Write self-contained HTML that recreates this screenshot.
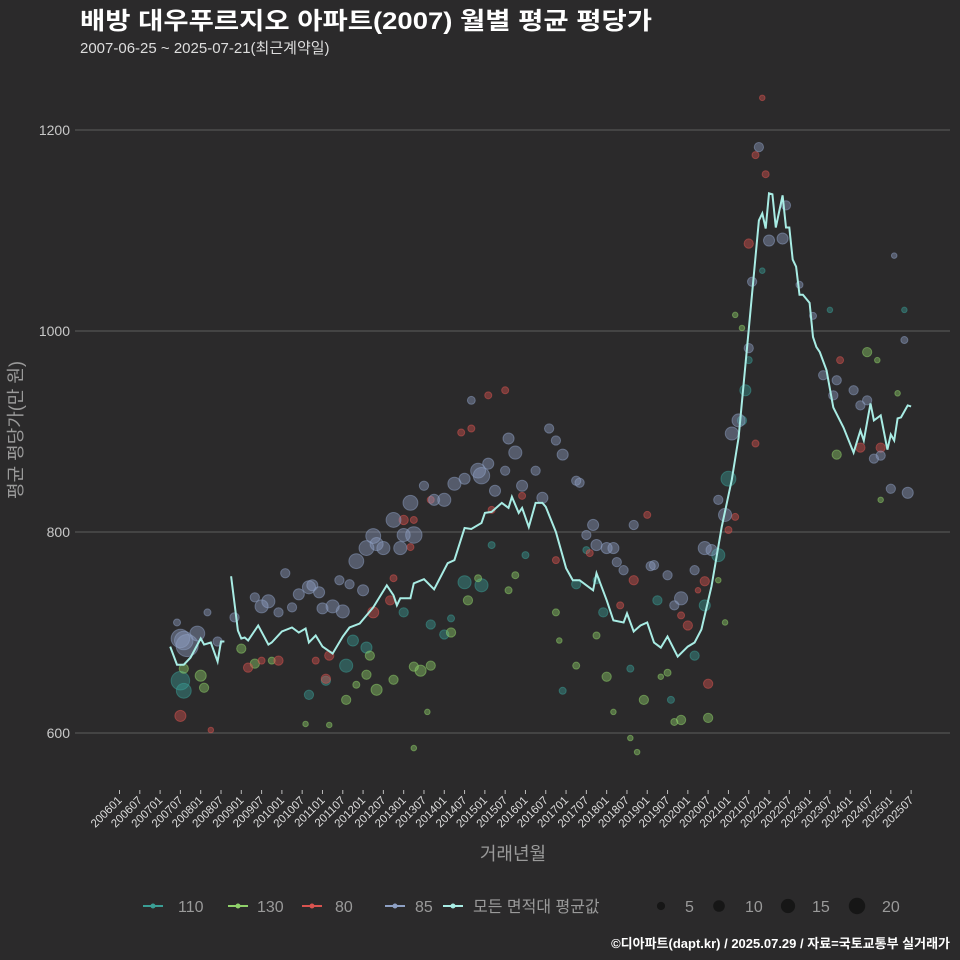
<!DOCTYPE html>
<html><head><meta charset="utf-8"><style>
body{margin:0;background:#2b2a2b;}
svg{display:block;font-family:"Liberation Sans","Noto Sans CJK KR",sans-serif;}
</style></head><body>
<svg id="chart" width="960" height="960" viewBox="0 0 960 960">
<rect width="960" height="960" fill="#2b2a2b"/>
<text x="80" y="29" font-size="24" font-weight="bold" fill="#fff" textLength="572" lengthAdjust="spacingAndGlyphs">배방 대우푸르지오 아파트(2007) 월별 평균 평당가</text>
<text x="80" y="53" font-size="15" fill="#ddd">2007-06-25 ~ 2025-07-21(최근계약일)</text>
<g id="grid"></g>
<g id="yticks"></g>
<g id="xticks"></g>
<g id="dots"></g>
<path id="avgline" fill="none" stroke="#a8ece4" stroke-width="2"/>
<text x="513" y="860" font-size="18" fill="#9a9a9a" text-anchor="middle">거래년월</text>
<text transform="translate(22,430) rotate(-90)" font-size="18" fill="#9a9a9a" text-anchor="middle">평균 평당가(만 원)</text>
<g id="legend"></g>
<text x="950" y="948" font-size="13" font-weight="bold" fill="#fff" text-anchor="end">©디아파트(dapt.kr) / 2025.07.29 / 자료=국토교통부 실거래가</text>
</svg>
<script>
const yTicks=[600,800,1000,1200];
const xTickLabels=[];for(let y=2006;y<=2025;y++){xTickLabels.push(y+"01");xTickLabels.push(y+"07");}
const seriesNames=["110","130","80","85"];
const seriesColors={"110":"#3a9e95","130":"#8fd16a","80":"#d9534f","85":"#8ea0c4"};
const avgMonths=["2007-04","2007-06","2007-08","2007-10","2008-01","2008-02","2008-04","2008-06","2008-07","2008-08","2008-09","2008-10","2008-12","2009-01","2009-02","2009-03","2009-06","2009-09","2009-10","2010-01","2010-04","2010-06","2010-08","2010-09","2010-11","2011-01","2011-04","2011-07","2011-09","2011-12","2012-04","2012-08","2012-10","2012-11","2012-12","2013-03","2013-04","2013-07","2013-10","2014-02","2014-04","2014-07","2014-09","2014-12","2015-01","2015-03","2015-06","2015-08","2015-09","2015-11","2015-12","2016-02","2016-04","2016-06","2016-07","2016-10","2017-01","2017-03","2017-05","2017-07","2017-09","2017-10","2018-01","2018-03","2018-06","2018-07","2018-09","2018-11","2019-01","2019-03","2019-05","2019-07","2019-10","2020-01","2020-03","2020-05","2020-08","2020-11","2021-02","2021-04","2021-07","2021-10","2021-11","2021-12","2022-01","2022-02","2022-03","2022-05","2022-06","2022-07","2022-08","2022-09","2022-10","2022-11","2023-01","2023-02","2023-03","2023-04","2023-06","2023-08","2023-11","2024-02","2024-04","2024-05","2024-07","2024-08","2024-10","2024-12","2025-01","2025-02","2025-03","2025-04","2025-06","2025-07"];
const avgValues=[686,668,668,675,694,688,690,671,691,691,null,756,702,694,695,692,707,688,690,701,705,700,704,690,697,686,679,696,705,709,725,747,737,727,734,734,749,753,743,769,772,804,803,809,819,820,829,824,835,819,824,805,829,829,825,800,764,752,752,747,742,759,732,712,710,719,701,707,710,690,685,696,676,686,690,703,746,805,852,894,1001,1110,1117,1102,1137,1136,1103,1135,1103,1103,1071,1064,1036,1036,1028,994,984,979,961,924,904,879,901,891,928,911,916,882,897,891,913,914,926,925];
const pts110=[["2007-07",652,28],["2007-08",642,18],["2010-09",638,7],["2011-02",652,7],["2011-08",667,14],["2011-10",692,10],["2012-02",685,10],["2013-01",720,7],["2013-09",708,7],["2014-01",698,7],["2014-03",714,4],["2014-07",750,14],["2014-12",747,14],["2015-03",787,4],["2016-01",777,4],["2016-12",642,4],["2017-04",748,7],["2017-07",782,4],["2017-10",752,4],["2017-12",720,7],["2018-08",664,4],["2019-04",732,7],["2019-08",633,4],["2020-03",677,7],["2020-06",727,10],["2020-10",777,14],["2021-01",853,18],["2021-05",911,7],["2021-06",941,10],["2021-07",971,4],["2021-11",1060,2.5],["2023-07",1021,2.5],["2025-05",1021,2.5]];
const pts130=[["2007-08",664,7],["2008-01",657,10],["2008-02",645,7],["2009-01",684,7],["2009-05",669,7],["2009-10",672,4],["2010-08",609,2.5],["2011-03",608,2.5],["2011-08",633,7],["2011-11",648,4],["2012-02",658,7],["2012-03",677,7],["2012-05",643,10],["2012-10",653,7],["2013-04",666,7],["2013-06",662,10],["2013-09",667,7],["2013-08",621,2.5],["2013-04",585,2.5],["2014-03",700,7],["2014-08",732,7],["2014-11",754,4],["2015-08",742,4],["2015-10",757,4],["2016-10",720,4],["2016-11",692,2.5],["2017-04",667,4],["2017-10",697,4],["2018-01",656,7],["2018-03",621,2.5],["2018-08",595,2.5],["2018-10",581,2.5],["2018-12",633,7],["2019-05",656,2.5],["2019-07",660,4],["2019-09",611,4],["2019-11",613,7],["2020-07",615,7],["2020-10",752,2.5],["2020-12",710,2.5],["2021-03",1016,2.5],["2021-05",1003,2.5],["2023-09",877,7],["2024-06",979,7],["2024-09",971,2.5],["2025-03",938,2.5],["2024-10",832,2.5]];
const pts80=[["2007-07",617,10],["2008-04",603,2.5],["2009-03",665,7],["2009-07",672,4],["2009-12",672,7],["2010-11",672,4],["2011-03",677,7],["2011-02",654,7],["2012-04",720,10],["2012-09",732,7],["2012-10",754,4],["2013-01",812,7],["2013-04",812,4],["2013-03",785,4],["2013-09",832,4],["2014-06",899,4],["2014-09",903,4],["2015-02",936,4],["2015-03",822,4],["2015-07",941,4],["2015-12",836,4],["2016-10",772,4],["2017-08",779,4],["2018-05",727,4],["2018-09",752,7],["2019-01",817,4],["2019-11",717,4],["2020-01",707,7],["2020-04",742,2.5],["2020-06",751,7],["2020-07",649,7],["2021-01",802,4],["2021-03",815,4],["2021-07",1087,7],["2021-09",1175,4],["2021-11",1232,2.5],["2021-12",1156,4],["2021-09",888,4],["2024-04",884,7],["2024-10",884,7],["2023-10",971,4]];
const pts85=[["2007-06",710,4],["2007-07",694,28],["2007-08",692,28],["2007-09",687,40],["2007-12",699,18],["2008-03",720,4],["2008-06",691,7],["2008-11",715,7],["2009-05",735,7],["2009-07",726,14],["2009-09",731,14],["2009-12",720,7],["2010-02",759,7],["2010-04",725,7],["2010-06",738,10],["2010-09",745,14],["2010-10",747,10],["2010-12",740,10],["2011-01",724,10],["2011-04",726,14],["2011-06",752,7],["2011-07",721,14],["2011-09",748,7],["2011-11",771,18],["2012-01",742,10],["2012-02",784,18],["2012-04",796,18],["2012-05",788,14],["2012-07",784,14],["2012-10",812,18],["2012-12",784,14],["2013-01",797,14],["2013-03",829,18],["2013-04",797,22],["2013-07",846,7],["2013-10",832,10],["2014-01",832,14],["2014-04",848,14],["2014-07",853,10],["2014-09",931,5],["2014-11",861,18],["2014-12",856,22],["2015-02",868,10],["2015-04",841,10],["2015-07",861,7],["2015-08",893,10],["2015-10",879,14],["2015-12",846,10],["2016-04",861,7],["2016-06",834,10],["2016-08",903,7],["2016-10",891,7],["2016-12",877,10],["2017-04",851,7],["2017-05",849,7],["2017-07",797,7],["2017-09",807,10],["2017-10",787,10],["2018-01",784,10],["2018-03",784,10],["2018-04",770,7],["2018-06",762,7],["2018-09",807,7],["2019-02",766,7],["2019-03",767,7],["2019-07",757,7],["2019-09",727,7],["2019-11",734,14],["2020-03",762,7],["2020-06",784,14],["2020-08",782,10],["2020-10",832,7],["2020-12",817,14],["2021-02",898,14],["2021-04",911,14],["2021-07",983,7],["2021-08",1049,7],["2021-10",1183,7],["2022-01",1090,10],["2022-05",1092,10],["2022-06",1125,7],["2022-10",1046,4],["2023-02",1015,4],["2023-05",956,7],["2023-08",936,7],["2023-09",951,7],["2024-02",941,7],["2024-04",926,7],["2024-06",931,7],["2024-08",873,7],["2024-10",876,7],["2025-01",843,7],["2025-05",991,4],["2025-06",839,10],["2025-02",1075,2.5]];
const sizeLegend=[5,10,15,20];

const NS="http://www.w3.org/2000/svg";
const X0=119.5, DX=3.383;
function mIndex(s){const p=s.split("-");return (parseInt(p[0])-2006)*12+parseInt(p[1])-1;}
function xScale(s){return X0+DX*mIndex(s);}
function yScale(v){return 130+(1200-v)*201/200;}
function rScale(n){return 1.75*Math.sqrt(n);}
function mk(tag,attrs,parent){const e=document.createElementNS(NS,tag);for(const k in attrs)e.setAttribute(k,attrs[k]);parent.appendChild(e);return e;}

const grid=document.getElementById("grid"), yt=document.getElementById("yticks"), xt=document.getElementById("xticks");
yTicks.forEach(v=>{
  const l=mk("line",{x1:75,x2:950,y1:yScale(v),y2:yScale(v),stroke:"#5e5e5e","stroke-width":1},grid);
  
  
  const t=mk("text",{x:70,y:yScale(v)+5,"font-size":14,fill:"#c8c8c8","text-anchor":"end"},yt);
  t.textContent=v;
  
  
});
xTickLabels.forEach(lab=>{
  const x=xScale(lab.slice(0,4)+"-"+lab.slice(4));
  const tk=mk("line",{x1:x,x2:x,y1:790,y2:794,stroke:"#bbb","stroke-width":1},xt);
  
  
  const t=mk("text",{transform:`translate(${x+3},${801}) rotate(-45)`,"font-size":11.5,fill:"#ddd","text-anchor":"end"},xt);
  t.textContent=lab;
  
  
});
const dots=document.getElementById("dots");
[["110",pts110],["130",pts130],["80",pts80],["85",pts85]].forEach(([name,arr])=>{
  const c=seriesColors[name];
  arr.forEach(p=>{
    const e=mk("circle",{cx:xScale(p[0]),cy:yScale(p[1]),r:rScale(p[2]),fill:c,"fill-opacity":0.42,stroke:c,"stroke-opacity":0.5,"stroke-width":1},dots);
    
    
  });
});
let d="",pen=false;
avgMonths.forEach((m,i)=>{const v=avgValues[i];if(v==null){pen=false;return;}d+=(pen?"L":"M")+xScale(m).toFixed(1)+","+yScale(v).toFixed(1);pen=true;});
document.getElementById("avgline").setAttribute("d",d);

const lg=document.getElementById("legend");
const items=[["110",143,178],["130",228,257],["80",302,335],["85",385,415],["avg",443,473]];
items.forEach(([n,x,tx])=>{
  const c=n==="avg"?"#a8ece4":seriesColors[n];
  const g=mk("g",{},lg);
  
  
  mk("line",{x1:x,x2:x+20,y1:906,y2:906,stroke:c,"stroke-width":2},g);
  mk("circle",{cx:x+10,cy:906,r:2.5,fill:c},g);
  const t=mk("text",{x:tx,y:912,"font-size":16,fill:"#9a9a9a"},g);
  t.textContent=n==="avg"?"모든 면적대 평균값":n;
});
const sx=[661,719,788,857], stx=[685,745,812,882];
sizeLegend.forEach((s,i)=>{
  const g=mk("g",{},lg);
  
  
  mk("circle",{cx:sx[i],cy:906,r:rScale(s)*1.05,fill:"#161616"},g);
  const t=mk("text",{x:stx[i],y:912,"font-size":16,fill:"#9a9a9a"},g);
  t.textContent=s;
});
</script>
</body></html>
